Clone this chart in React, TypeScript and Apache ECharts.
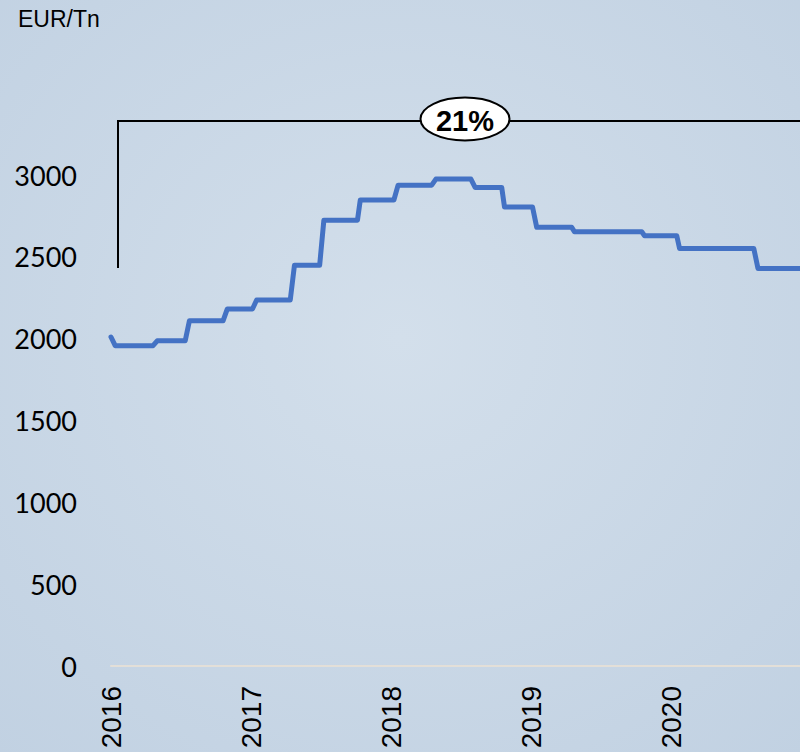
import React, { useEffect, useRef } from "react";
import * as echarts from "echarts";

// Decimal-year positions of the price path (step changes) and EUR/Tn values
const years: number[] = [
  2016.0, 2016.03, 2016.3, 2016.33, 2016.53, 2016.56, 2016.8, 2016.83,
  2017.01, 2017.04, 2017.28, 2017.31, 2017.49, 2017.52, 2017.76, 2017.78,
  2018.02, 2018.05, 2018.29, 2018.32, 2018.57, 2018.6, 2018.79, 2018.81,
  2019.01, 2019.04, 2019.29, 2019.31, 2019.79, 2019.81, 2020.04, 2020.06,
  2020.59, 2020.62, 2020.92,
];
const prices: number[] = [
  2010, 1957, 1957, 1987, 1987, 2109, 2109, 2181,
  2181, 2236, 2236, 2449, 2449, 2724, 2724, 2847,
  2847, 2938, 2938, 2975, 2975, 2924, 2924, 2804,
  2804, 2680, 2680, 2653, 2653, 2629, 2629, 2551,
  2551, 2429, 2429,
];
const yearTicks: number[] = [2016, 2017, 2018, 2019, 2020];
const unitLabel = "EUR/Tn";
const changeLabel = "21%";

export default function App() {
  const ref = useRef<HTMLDivElement>(null);
  useEffect(() => {
    document.body.style.margin = "0";
    if (!ref.current) return;
    const chart = echarts.init(ref.current, null, { renderer: "svg" });
    const data = years.map((y, i) => [y, prices[i]]);
    chart.setOption({
      animation: false,
      backgroundColor: {
        type: "radial",
        x: 0.5,
        y: 0.45,
        r: 0.75,
        colorStops: [
          { offset: 0, color: "#D3DFEB" },
          { offset: 1, color: "#C1D1E2" },
        ],
      },
      grid: { left: 111, right: 0, top: 175, bottom: 86 },
      xAxis: {
        type: "value",
        min: 2016,
        max: 2020.92,
        interval: 1,
        axisLine: { show: true, lineStyle: { color: "#E3DFD8", width: 2 } },
        axisTick: { show: false },
        splitLine: { show: false },
        axisLabel: {
          rotate: 90,
          margin: 20,
          fontFamily: "Liberation Sans",
          fontSize: 28,
          color: "#000",
          formatter: (v: number) =>
            yearTicks.indexOf(Math.round(v)) >= 0 && Math.abs(v - Math.round(v)) < 1e-6
              ? String(Math.round(v))
              : "",
        },
      },
      yAxis: {
        type: "value",
        min: 0,
        max: 3000,
        interval: 500,
        axisLine: { show: false },
        axisTick: { show: false },
        splitLine: { show: false },
        axisLabel: {
          margin: 34,
          fontFamily: "Lato",
          fontSize: 27,
          color: "#000",
          formatter: (v: number) => String(v),
        },
      },
      series: [
        {
          type: "line",
          data,
          symbol: "none",
          lineStyle: { color: "#4472C4", width: 5, cap: "round", join: "round" },
        },
      ],
      graphic: [
        {
          type: "text",
          left: 18,
          top: 7,
          style: { text: unitLabel, font: "23px 'Liberation Sans'", fill: "#000" },
        },
        {
          type: "polyline",
          shape: { points: [[118, 268], [118, 121], [800, 121]] },
          style: { stroke: "#000", lineWidth: 2, fill: "none" },
        },
        {
          type: "ellipse",
          shape: { cx: 465, cy: 119, rx: 44.5, ry: 21.5 },
          style: { fill: "#fff", stroke: "#000", lineWidth: 2 },
        },
        {
          type: "text",
          x: 465,
          y: 121,
          style: {
            text: changeLabel,
            font: "bold 29px 'Liberation Sans'",
            fill: "#000",
            align: "center",
            verticalAlign: "middle",
          },
        },
      ],
    });
    return () => chart.dispose();
  }, []);
  return <div ref={ref} style={{ width: 800, height: 752 }} />;
}
